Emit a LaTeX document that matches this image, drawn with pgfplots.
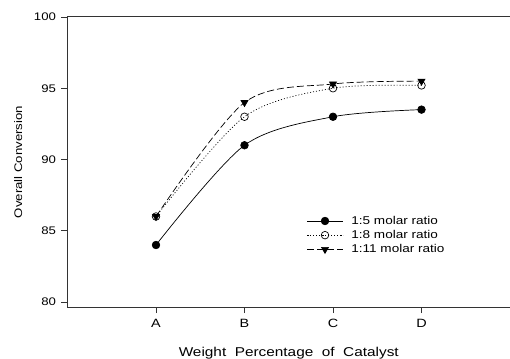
\documentclass[border=0pt]{standalone}
\usepackage{fontspec}
\setmainfont{Liberation Sans}[FakeStretch=1.2]
\usepackage{pgfplots}
\pgfplotsset{compat=1.18}
\begin{document}
\begin{tikzpicture}
\begin{axis}[
  name=ax,
  scale only axis,
  width=442.5pt, height=290pt,
  xmin=0, xmax=5,
  ymin=79.65, ymax=100,
  separate axis lines,
  axis x line=box,
  axis y line=left,
  axis line style={-, line width=1pt, draw=black!80},
  xtick={1,2,3,4},
  xticklabels={A,B,C,D},
  ytick={80,85,90,95,100},
  xtick pos=left, ytick pos=left,
  tick align=outside,
  major tick length=6pt,
  tick style={line width=0.8pt, draw=black!80},
  /pgf/number format/assume math mode=true,
  xticklabel style={font=\fontsize{12}{14}\selectfont, yshift=-3pt},
  yticklabel style={font=\fontsize{11}{13}\selectfont, xshift=-2pt},
  xlabel={Weight\ \ Percentage\ \ of\ \ Catalyst},
  ylabel={Overall Conversion},
  xlabel style={font=\fontsize{12.8}{14}\selectfont, at={(axis description cs:0.5,-0.169)}, anchor=base},
  ylabel style={font=\fontsize{11}{13}\selectfont, at={(axis description cs:-0.1017,0.5)}, anchor=south, inner sep=0pt},
  legend style={draw=none, fill=none, at={(axis cs:2.7,86.18)}, anchor=north west,
    font=\fontsize{11.3}{13}\selectfont, row sep=0.5pt, inner sep=0pt,
    /tikz/every odd column/.append style={column sep=6pt}},
  legend cell align=left,
  legend image code/.code={\draw[mark repeat=2,mark phase=2] plot coordinates {(0pt,0pt) (18pt,0pt) (36pt,0pt)};},
  clip=false,
]
\addplot[black, line width=0.7pt, smooth, mark=*, mark size=3.8pt, mark options={solid, fill=black}]
  coordinates {(1,84) (2,91) (3,93) (4,93.5)};
\addlegendentry{1:5 molar ratio}
\addplot[black, line width=0.7pt, smooth, dash pattern=on 1pt off 2pt, mark=o, mark size=3.8pt, mark options={solid, fill=white}]
  coordinates {(1,86) (2,93) (3,95) (4,95.2)};
\addlegendentry{1:8 molar ratio}
\addplot[black, line width=0.7pt, smooth, dash pattern=on 7pt off 3pt, mark=triangle*, mark size=4pt, mark options={solid, fill=black, rotate=180}]
  coordinates {(1,86) (2,94) (3,95.3) (4,95.5)};
\addlegendentry{1:11 molar ratio}
\end{axis}
\pgfresetboundingbox
\path ([shift={(-67.5pt,-51pt)}]ax.south west) rectangle ([shift={(0pt,17pt)}]ax.north east);
\end{tikzpicture}
\end{document}
